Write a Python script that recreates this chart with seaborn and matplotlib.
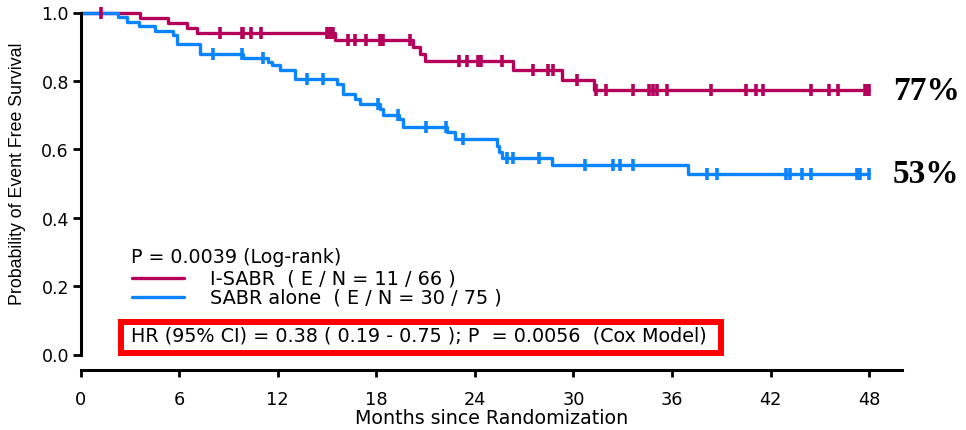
import numpy as np
import pandas as pd
import matplotlib
matplotlib.use("Agg")
import matplotlib.pyplot as plt
from matplotlib.patches import Rectangle
from matplotlib.lines import Line2D
import seaborn as sns

# ---- Kaplan-Meier data (months since randomization) ----
# I-SABR arm: event times and survival right after each event
isabr_event_t = [3.61, 5.33, 6.49, 7.10, 15.48, 20.24, 20.65, 20.96, 26.33, 29.28, 31.24]
isabr_surv = [0.985, 0.970, 0.955, 0.939, 0.920, 0.899, 0.879, 0.858, 0.832, 0.803, 0.773]
isabr_censor_t = [1.23, 8.48, 9.80, 9.90, 10.35, 10.97, 14.97, 15.17, 15.38, 16.29, 16.70,
                  17.36, 18.22, 18.38, 20.04, 23.04, 23.51, 24.20, 24.40, 25.62, 27.55,
                  28.46, 28.77, 30.19, 31.36, 31.95, 33.63, 34.61, 34.85, 35.09, 35.67,
                  38.40, 40.49, 41.14, 41.51, 44.49, 45.56, 46.11, 47.74, 47.94, 48.00]

# SABR alone arm
sabr_event_t = [2.29, 2.80, 3.57, 4.52, 5.60, 5.88, 7.26, 9.90, 11.42, 11.62, 12.13, 13.04,
                15.58, 15.98, 16.70, 17.00, 18.22, 18.42, 19.39, 19.64, 22.28, 22.78,
                25.32, 25.48, 25.62, 28.71, 36.98]
sabr_surv = [0.987, 0.973, 0.960, 0.947, 0.933, 0.907, 0.880, 0.866, 0.855, 0.846, 0.832, 0.806,
             0.791, 0.763, 0.747, 0.732, 0.718, 0.700, 0.688, 0.666, 0.651, 0.630,
             0.611, 0.591, 0.574, 0.553, 0.528]
sabr_censor_t = [8.07, 9.80, 11.11, 13.76, 14.77, 18.11, 19.33, 21.02, 22.23, 23.29, 25.93,
                 26.33, 27.91, 30.69, 32.38, 32.82, 33.60, 38.14, 38.75, 42.91, 43.21,
                 43.94, 44.49, 47.27, 47.43, 48.00]

follow_up_end = 48.0
x_ticks = [0, 6, 12, 18, 24, 30, 36, 42, 48]
y_ticks = [0.0, 0.2, 0.4, 0.6, 0.8, 1.0]

group_labels = ["I-SABR  ( E / N = 11 / 66 )", "SABR alone  ( E / N = 30 / 75 )"]
logrank_text = "P = 0.0039 (Log-rank)"
cox_text = "HR (95% CI) = 0.38 ( 0.19 - 0.75 ); P  = 0.0056  (Cox Model)"
x_label = "Months since Randomization"
y_label = "Probability of Event Free Survival"

C_ISABR = "#B5005B"
C_SABR = "#0A84FF"


def km_frame(event_t, surv, end):
    t = [0.0] + list(event_t) + [end]
    s = [1.0] + list(surv) + [surv[-1]]
    return pd.DataFrame({"month": t, "surv": s})


def censor_frame(event_t, surv, censor_t):
    levels = np.r_[1.0, surv]
    idx = np.searchsorted(np.asarray(event_t), np.asarray(censor_t), side="right")
    return pd.DataFrame({"month": censor_t, "surv": levels[idx]})


sns.set_style("ticks")
plt.rcParams["font.family"] = ["DejaVu Sans"]
plt.rcParams["text.color"] = "black"
plt.rcParams["axes.labelcolor"] = "black"
plt.rcParams["xtick.color"] = "black"
plt.rcParams["ytick.color"] = "black"

W, H = 966, 431
fig = plt.figure(figsize=(W / 100, H / 100), dpi=100)
ax = fig.add_axes([80.7 / W, 1 - 355.5 / H, (902 - 80.7) / W, 342 / H])


def fpos(x, y):
    return (x / W, 1 - y / H)


arms = [
    (isabr_event_t, isabr_surv, isabr_censor_t, C_ISABR),
    (sabr_event_t, sabr_surv, sabr_censor_t, C_SABR),
]

for ev, sv, ce, col in arms:
    sns.lineplot(data=km_frame(ev, sv, follow_up_end), x="month", y="surv",
                 drawstyle="steps-post", estimator=None, sort=False,
                 color=col, lw=2.4, clip_on=False, zorder=2, ax=ax)

for ev, sv, ce, col in arms:
    sns.scatterplot(data=censor_frame(ev, sv, ce), x="month", y="surv",
                    marker="|", s=75, linewidth=2.6, color=col,
                    clip_on=False, zorder=3, legend=False, ax=ax)

ax.set_xlim(0, 50)
ax.set_ylim(0, 1)
ax.set_xticks(x_ticks)
ax.set_yticks(y_ticks)
ax.set_yticklabels([f"{v:.1f}" for v in y_ticks])
ax.set_xlabel(x_label, fontsize=13.7, labelpad=0.3, color="black")
ax.set_ylabel(y_label, fontsize=12.8, family="Liberation Sans", color="black")
ax.yaxis.set_label_coords(-0.066, 0.532)

for side in ("top", "right"):
    ax.spines[side].set_visible(False)
for side in ("left", "bottom"):
    ax.spines[side].set_linewidth(2.2)
    ax.spines[side].set_color("black")
ax.spines["bottom"].set_position(("outward", 10.8))
ax.spines["left"].set_bounds(0, 1)
ax.spines["bottom"].set_bounds(0, 50)

ax.tick_params(axis="x", direction="out", length=5, width=2, pad=9.8,
               labelsize=12.8, colors="black")
ax.tick_params(axis="y", direction="out", length=6, width=2, pad=2.5,
               labelsize=12.5, colors="black")
ax.set_facecolor("white")

# end-of-follow-up survival labels
for ev, sv, ce, col in arms:
    fig.text(893 / W, ax.transData.transform((0, sv[-1]))[1] / H,
             f"{round(sv[-1] * 100):d}%", fontsize=24, fontweight="bold",
             family="Liberation Serif", va="center", ha="left", color="black")

# annotation block
fig.text(*fpos(131, 262.7), logrank_text, fontsize=13.7, va="baseline", ha="left",
         color="black")
for (ev, sv, ce, col), lab, ly in zip(arms, group_labels, [279.3, 297.7]):
    fig.add_artist(Line2D([131.7 / W, 184 / W], [1 - ly / H, 1 - ly / H],
                          color=col, lw=2.4, transform=fig.transFigure))
    fig.text(*fpos(210, ly), lab, fontsize=13.9, va="center", ha="left", color="black")

fig.add_artist(Rectangle(fpos(121, 353.7), 600 / W, 30.7 / H,
                         transform=fig.transFigure, fill=False,
                         edgecolor="#FF0000", lw=4.3))
fig.text(*fpos(131, 342), cox_text, fontsize=13.8, va="baseline", ha="left",
         color="black")

fig.savefig("out.png", dpi=100, facecolor="white")
